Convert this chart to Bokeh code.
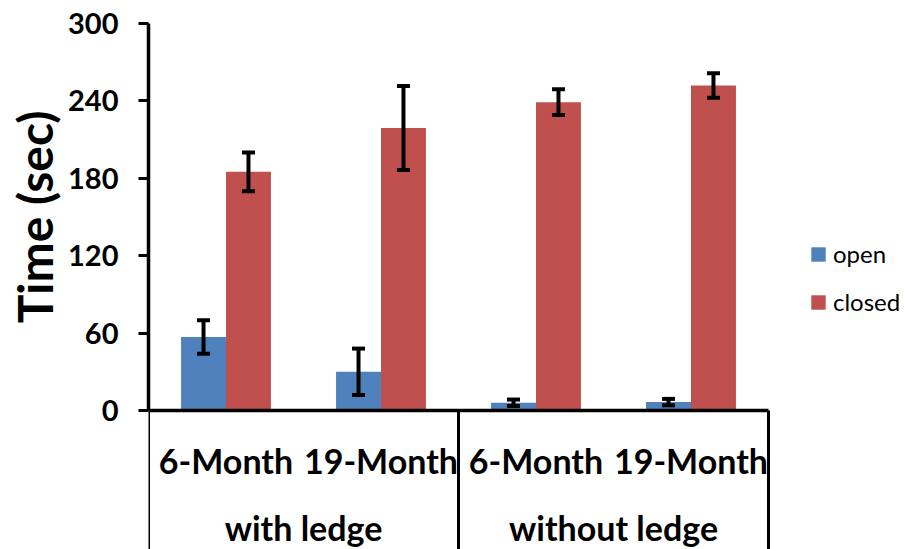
from bokeh.plotting import figure
from bokeh.models import (Range1d, ColumnDataSource, Whisker, TeeHead,
                          FixedTicker, Legend, LegendItem, Title)
from bokeh.embed import file_html
from bokeh.resources import INLINE

# ---- data ----
groups = ["with ledge", "without ledge"]
ages = ["6-Month", "19-Month"]
series = ["open", "closed"]
open_mean = [57, 30, 6, 6.5]
open_err = [13, 18, 2.5, 2.5]
closed_mean = [185, 219, 239, 252]
closed_err = [15, 32.5, 10, 9.5]
y_ticks = [0, 60, 120, 180, 240, 300]
y_label = "Time (sec)"

FONT = "Lato"
BLUE = "#4F81BD"
RED = "#C0504D"

# category slots: one unit per (group, age) pair
labels = [a for g in groups for a in ages]
n = len(labels)
centers = [i + 0.5 for i in range(n)]
group_centers = [gi * len(ages) + len(ages) / 2 for gi in range(len(groups))]
bounds_x = [gi * len(ages) for gi in range(len(groups) + 1)]

Y_MAX = 300
Y_MIN = -107.75
X_END = n * 756 / 620   # plot area continues to the right for the legend
MONTH_Y = -38.8
GROUP_Y = -90.7
OFF = 0.145
BAR_W = 0.29

p = figure(
    x_range=Range1d(0, X_END),
    y_range=Range1d(Y_MIN, Y_MAX),
    width=904, height=549,
    output_backend="svg", toolbar_location=None,
    min_border_left=148, min_border_right=0,
    min_border_top=23, min_border_bottom=0,
    x_axis_location=None,
)
p.xgrid.visible = False
p.ygrid.visible = False
p.outline_line_color = None

yax = p.yaxis[0]
yax.bounds = (0, Y_MAX)
yax.ticker = FixedTicker(ticks=y_ticks)
yax.axis_line_width = 3.5
yax.axis_line_color = "black"
yax.major_tick_out = 10
yax.major_tick_in = 0
yax.major_tick_line_width = 3
yax.major_tick_line_color = "black"
yax.minor_tick_out = 0
yax.minor_tick_in = 0
yax.major_label_text_font = FONT
yax.major_label_text_font_size = "29px"
yax.major_label_text_font_style = "bold"
yax.major_label_text_color = "black"
yax.major_label_standoff = 20

# y-axis title, aligned to the 0..300 part of the axis
ytitle = Title(text=y_label, align="right", offset=87, vertical_align="middle",
               text_font=FONT, text_font_size="48px", text_font_style="bold",
               text_color="black", standoff=4)
p.add_layout(ytitle, "left")

src = ColumnDataSource(dict(
    xo=[c - OFF for c in centers],
    xc=[c + OFF for c in centers],
    open=open_mean,
    closed=closed_mean,
    open_lo=[m - e for m, e in zip(open_mean, open_err)],
    open_hi=[m + e for m, e in zip(open_mean, open_err)],
    closed_lo=[m - e for m, e in zip(closed_mean, closed_err)],
    closed_hi=[m + e for m, e in zip(closed_mean, closed_err)],
))

r_open = p.vbar(x="xo", top="open", width=BAR_W, source=src,
                fill_color=BLUE, line_color=None)
r_closed = p.vbar(x="xc", top="closed", width=BAR_W, source=src,
                  fill_color=RED, line_color=None)

for key, xcol in (("open", "xo"), ("closed", "xc")):
    w = Whisker(base=xcol, upper=key + "_hi", lower=key + "_lo",
                source=src, line_width=4, line_color="black", level="overlay",
                upper_head=TeeHead(size=13, line_width=4, line_color="black"),
                lower_head=TeeHead(size=13, line_width=4, line_color="black"))
    p.add_layout(w)

# x axis line and category separators (Excel-style)
p.segment(x0=[0], y0=[0], x1=[n], y1=[0], line_width=3.5, line_color="black")
p.segment(x0=bounds_x, y0=[0] * len(bounds_x), x1=bounds_x, y1=[Y_MIN] * len(bounds_x),
          line_width=3, line_color="black")

lab_src = ColumnDataSource(dict(x=centers, t=labels))
p.text(x="x", y=MONTH_Y, text="t", source=lab_src, text_align="center",
       text_baseline="middle", text_font={"value": FONT}, text_font_size="34px",
       text_font_style="bold", text_color="black")
grp_src = ColumnDataSource(dict(x=group_centers, t=groups))
p.text(x="x", y=GROUP_Y, text="t", source=grp_src, text_align="center",
       text_baseline="middle", text_font={"value": FONT}, text_font_size="34px",
       text_font_style="bold", text_color="black")

legend = Legend(items=[LegendItem(label=series[0], renderers=[r_open]),
                       LegendItem(label=series[1], renderers=[r_closed])],
                location=(661, 233), glyph_width=18, glyph_height=18,
                label_text_font=FONT, label_text_font_size="24px",
                label_text_color="black", border_line_color=None,
                background_fill_alpha=0, padding=0, margin=0, spacing=19,
                label_standoff=6)
p.add_layout(legend)

open("out.html", "w").write(file_html(p, INLINE))
